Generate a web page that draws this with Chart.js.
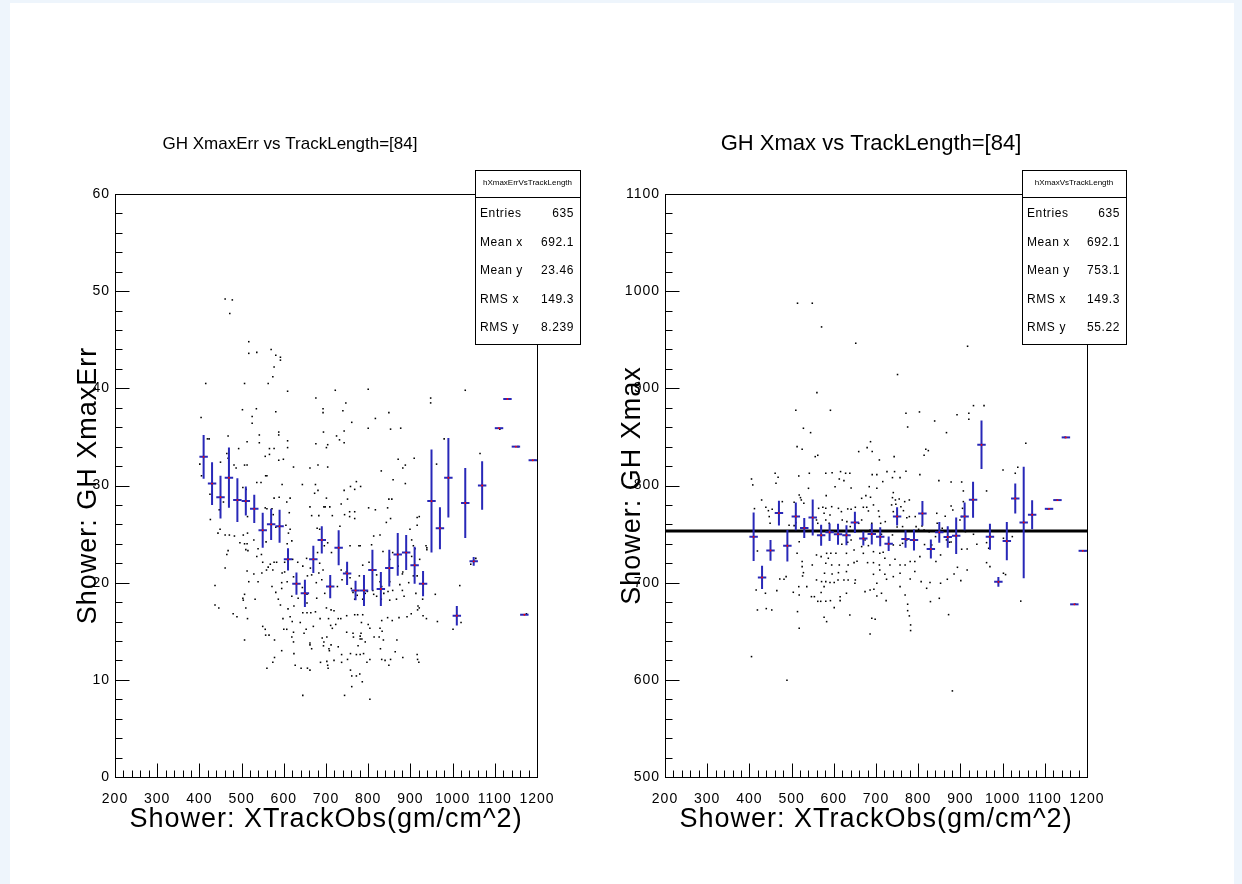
<!DOCTYPE html>
<html>
<head>
<meta charset="utf-8">
<title>GH Xmax vs TrackLength</title>
<script src="https://cdn.jsdelivr.net/npm/chart.js@4.4.1/dist/chart.umd.min.js"></script>
<style>
    html, body { margin: 0; padding: 0; width: 1242px; height: 884px; overflow: hidden; background: #eef5fc; }
    #page { position: absolute; left: 10px; top: 3px; width: 1224px; height: 881px; background: #ffffff; }
    .pane { position: absolute; top: 0; height: 884px; }
    #paneLeft { left: 10px; width: 590px; }
    #paneRight { left: 590px; width: 560px; }
</style>
</head>
<body>
<div id="page"></div>
<div class="pane" id="paneLeft"><canvas id="chartLeft"></canvas></div>
<div class="pane" id="paneRight"><canvas id="chartRight"></canvas></div>
<script>
// ---- data ----
const xTicks = [200, 300, 400, 500, 600, 700, 800, 900, 1000, 1100, 1200];
const leftYTicks = [0, 10, 20, 30, 40, 50, 60];
const rightYTicks = [500, 600, 700, 800, 900, 1000, 1100];
const binHalfWidth = 10;

const statLabels = ['Entries', 'Mean x', 'Mean y', 'RMS x', 'RMS y'];
const leftStatValues = ['635', '692.1', '23.46', '149.3', '8.239'];
const rightStatValues = ['635', '692.1', '753.1', '149.3', '55.22'];
const rightMeanY = 753.1;

// profile (bin centres, mean, error)
const profX = [410, 430, 450, 470, 490, 510, 530, 550, 570, 590, 610, 630, 650, 670, 690, 710, 730, 750, 770, 790,
    810, 830, 850, 870, 890, 910, 930, 950, 970, 990, 1010, 1030, 1050, 1070, 1110, 1130, 1150, 1170, 1190];
const leftProfY = [32.95, 30.2, 28.8, 30.8, 28.5, 28.4, 27.6, 25.4, 26.0, 25.8, 22.4, 19.9, 18.9, 22.4, 24.4, 19.6, 23.6, 20.95, 19.2, 19.2,
    21.3, 19.35, 21.5, 22.9, 23.1, 21.8, 19.9, 28.4, 25.6, 30.8, 16.6, 28.2, 22.2, 30.0, 35.9, 38.9, 34.0, 16.7, 32.6];
const leftProfErr = [2.25, 2.2, 2.2, 3.1, 2.25, 1.5, 1.45, 1.8, 1.6, 1.7, 1.15, 1.15, 1.4, 1.4, 1.4, 1.2, 1.8, 1.2, 1.0, 1.6,
    2.1, 1.75, 1.9, 2.2, 1.8, 1.9, 1.3, 5.3, 2.15, 4.1, 1.0, 3.6, 0.45, 2.5, 0, 0, 0, 0, 0];
const rightProfY = [747.2, 705.4, 733.2, 771.6, 738.0, 768.2, 756.2, 767.0, 748.8, 751.9, 749.9, 748.8, 762.0, 745.4, 750.0, 747.2, 740.0, 768.2, 744.9, 743.8,
    771.3, 734.6, 751.8, 747.0, 748.3, 768.2, 785.4, 841.9, 747.2, 700.9, 742.8, 786.6, 762.0, 769.9, 776.0, 785.0, 849.5, 677.7, 732.8];
const rightProfErr = [24.9, 12.0, 10.6, 12.7, 16.3, 14.2, 10.3, 18.5, 10.8, 9.0, 10.8, 10.3, 11.0, 7.2, 10.6, 9.8, 7.4, 9.4, 9.0, 10.8,
    12.7, 9.8, 10.6, 11.0, 18.7, 14.2, 18.5, 25.0, 13.4, 5.0, 19.7, 15.4, 57.4, 14.9, 0, 0, 0, 0, 0];

// individual entries [XTrackObs, GH XmaxErr]
const leftEntries = [
    [461,49.2],[478,49.1],[472,47.7],[517,44.8],[517,43.6],[536,43.7],[570,44.0],[581,43.4],[592,43.2],[592,42.9],[577,42.2],[574,41.2],[415,40.5],[507,40.5],[563,40.5],
    [609,39.7],[404,37.0],[502,37.8],[535,37.9],[581,37.6],[525,37.1],[525,36.4],[468,35.1],[542,35.2],[588,35.5],[588,35.2],[513,34.5],[542,34.4],[609,34.6],[609,33.9],
    [419,34.8],[423,34.8],[493,33.8],[566,33.8],[577,33.8],[556,33.0],[566,33.2],[599,32.7],[588,32.6],[465,33.3],[468,32.8],[450,32.4],[482,32.1],[487,31.8],[507,32.1],
    [513,32.1],[623,31.9],[401,32.2],[405,31.0],[557,31.0],[560,31.0],[536,30.3],[546,30.3],[596,30.1],[425,29.1],[457,28.3],[503,29.8],[511,29.6],[577,28.7],[589,28.8],
    [607,28.3],[615,28.7],[613,27.2],[426,26.5],[447,27.5],[556,27.7],[560,27.6],[572,27.6],[575,27.0],[514,26.8],[449,25.5],[444,25.1],[461,24.9],[471,24.9],[483,24.8],
    [504,24.9],[514,25.1],[496,24.1],[507,24.0],[513,24.0],[468,23.3],[465,22.9],[510,23.4],[515,23.3],[529,24.4],[539,23.5],[558,24.2],[581,25.7],[605,25.9],[615,25.5],
    [611,25.1],[619,24.3],[608,24.0],[547,22.9],[536,22.7],[550,22.1],[568,21.9],[563,21.6],[577,22.1],[583,22.1],[461,21.5],[513,21.2],[529,20.9],[548,21.0],[559,21.3],
    [574,21.3],[596,21.0],[602,21.1],[602,22.1],[621,22.4],[633,22.1],[517,20.1],[539,20.1],[572,19.6],[595,20.0],[608,20.1],[623,20.6],[437,19.7],[446,17.4],[437,17.7],
    [503,18.4],[504,18.2],[507,18.8],[532,18.3],[510,17.4],[514,16.3],[480,16.8],[489,16.5],[581,19.0],[587,18.3],[595,19.4],[592,17.7],[598,16.3],[610,17.3],[615,16.5],
    [619,18.6],[624,17.6],[634,18.4],[550,15.5],[556,15.2],[600,15.2],[607,15.2],[620,16.0],[623,14.9],
    [722,39.8],[800,39.9],[948,39.0],[948,38.5],[1030,39.8],[676,39.0],[747,38.5],[693,37.9],[693,37.5],[740,37.7],[849,37.5],[817,36.9],[761,36.5],[694,35.5],[743,35.6],
    [725,35.1],[732,34.7],[743,34.4],[676,34.3],[704,34.2],[701,33.9],[800,35.9],[853,35.8],[877,35.9],[980,34.8],[962,32.2],[1065,33.3],[871,32.7],[909,32.8],[888,32.1],
    [882,31.8],[831,31.5],[662,31.8],[681,32.1],[704,31.9],[644,30.1],[675,30.1],[758,29.9],[772,30.4],[782,29.9],[768,29.6],[888,30.2],[859,30.6],[673,29.2],[681,29.5],
    [743,29.5],[751,28.6],[701,28.7],[736,28.1],[849,28.6],[856,28.6],[662,27.8],[695,27.8],[698,27.8],[709,27.8],[801,27.7],[817,27.5],[846,27.7],[666,26.9],[683,26.9],
    [715,26.9],[744,27.0],[756,27.3],[756,26.8],[768,27.3],[768,26.6],[853,26.6],[843,26.2],[916,26.7],[921,26.8],[916,25.9],[899,25.5],[813,24.8],[828,24.9],[733,25.8],
    [679,25.6],[685,25.5],[704,24.1],[696,23.8],[680,23.1],[713,23.1],[654,22.5],[757,23.8],[778,23.8],[781,23.8],[808,23.9],[835,23.2],[858,23.1],[903,24.4],[907,23.8],
    [911,23.5],[937,23.8],[939,23.6],[939,23.4],[903,22.7],[922,22.4],[645,21.7],[663,21.5],[685,22.0],[693,21.3],[656,20.7],[666,20.8],[683,21.0],[690,20.3],[677,20.0],
    [736,21.3],[748,21.1],[738,20.3],[757,20.5],[779,20.7],[787,21.8],[802,22.1],[851,22.4],[871,21.7],[881,20.9],[882,21.1],[820,20.8],[828,20.1],[875,19.8],[896,20.0],
    [851,20.1],[832,19.6],[837,18.9],[847,19.1],[811,19.2],[798,19.1],[790,18.7],[813,18.8],[913,18.9],[858,19.2],[881,19.2],[885,18.6],[907,20.7],[916,20.7],[959,18.8],
    [1017,19.7],[644,19.5],[655,18.8],[678,18.4],[697,18.9],[727,19.6],[760,19.4],[764,19.0],[768,18.3],[787,18.3],[774,18.7],[793,18.9],[820,18.6],[831,18.3],[851,18.2],
    [867,18.3],[655,17.9],[645,16.9],[655,16.9],[664,16.9],[675,17.0],[701,17.4],[712,17.2],[719,17.1],[729,16.3],[735,16.3],[749,16.6],[768,16.7],[775,16.7],[787,16.7],
    [784,15.9],[800,15.7],[832,16.1],[846,16.4],[857,16.1],[873,16.4],[892,16.5],[902,16.8],[917,17.2],[930,16.6],[938,16.3],[964,16.0],[1001,15.2],[1020,15.9],[670,15.5],
    [686,16.3],[706,16.3],[711,15.6],[723,15.7],[715,15.3],[749,14.9],[764,14.8],[783,14.8],[804,15.3],[828,15.3],[833,15.0],[653,15.2],[648,14.8],[639,15.9],[929,18.3],
    [918,17.6],[921,17.4],[1112,35.8],[1127,38.9],[1155,34.0],[1175,16.8],[1195,32.6],[1043,21.9],[1055,22.5],
    [507,14.1],[557,14.6],[565,14.6],[578,14.1],[619,14.4],[623,13.9],[662,13.8],[662,13.6],[666,13.2],[691,14.3],[695,13.9],[694,13.5],[702,14.4],[707,13.2],[708,13.0],
    [712,13.6],[729,13.4],[595,13.0],[624,12.7],[578,12.3],[574,11.8],[560,11.2],[627,11.5],[641,11.2],[656,11.2],[662,11.0],[687,11.8],[702,11.9],[704,11.5],[705,11.2],
    [719,12.0],[737,12.6],[737,11.8],[751,12.1],[758,12.7],[758,11.0],[761,10.4],[772,10.4],[780,10.6],[786,9.8],[761,9.3],[772,12.6],[781,12.6],[789,12.7],[797,11.8],
    [804,12.1],[765,14.4],[781,14.5],[781,14.2],[785,14.2],[793,13.9],[776,13.5],[814,14.4],[826,14.4],[836,14.1],[829,13.2],[832,12.1],[840,12.0],[853,12.1],[864,12.9],
    [868,14.1],[882,12.3],[849,11.5],[916,12.6],[917,12.1],[920,11.8],[645,8.4],[744,8.4],[804,8.0]
];

// individual entries [XTrackObs, GH Xmax]
const rightEntries = [
    [514,987.6],[549,987.6],[571,963.2],[652,946.4],[917,943.3],[751,914.2],[405,623.9],[489,599.5],[881,588.6],
    [560,895.6],[510,877.4],[592,877.4],[528,858.9],[545,854.4],[513,840.0],[525,837.3],[556,829.7],[562,831.1],[659,834.9],[405,806.7],[408,800.6],[461,812.6],[468,808.4],
    [463,802.3],[542,812.6],[581,812.6],[596,813.2],[616,814.3],[628,812.6],[638,812.6],[613,806.7],[624,805.0],[641,797.5],[603,798.8],[582,789.6],[540,797.1],[517,809.8],
    [429,785.1],[412,776.2],[439,777.6],[445,774.1],[454,775.5],[447,768.0],[449,761.1],[478,783.4],[518,790.3],[521,787.5],[523,785.1],[529,781.7],[506,782.7],[494,759.1],
    [506,758.7],[510,761.8],[564,776.5],[574,777.6],[581,776.5],[595,778.2],[577,771.4],[591,769.7],[559,764.5],[581,764.5],[562,761.1],[570,757.3],[589,761.1],[611,776.5],
    [618,773.1],[633,775.9],[641,775.5],[620,764.5],[631,762.8],[639,757.7],[659,761.1],[651,777.6],[619,739.5],[633,741.6],[641,744.0],[648,733.7],[605,730.2],[593,730.2],
    [559,728.5],[570,726.8],[583,730.2],[581,719.9],[587,725.1],[595,718.2],[613,718.2],[634,718.2],[419,732.6],[416,692.5],[419,671.9],[440,673.3],[453,671.9],[438,689.1],
    [465,691.8],[472,703.8],[487,706.2],[482,703.5],[504,690.1],[517,695.9],[518,687.4],[526,706.9],[525,716.5],[528,710.3],[536,695.9],[513,730.2],[518,742.2],[525,721.7],
    [549,718.2],[559,702.8],[571,701.1],[577,695.9],[581,701.1],[591,700.1],[601,700.1],[610,702.8],[624,702.8],[634,702.8],[651,702.8],[578,709.7],[596,709.0],[611,710.3],
    [630,711.4],[630,730.2],[648,720.6],[655,722.0],[570,689.8],[562,680.8],[569,680.8],[581,680.8],[592,681.5],[615,685.6],[615,681.5],[630,689.1],[638,666.8],[650,699.4],
    [601,674.3],[577,664.4],[583,659.9],[514,670.2],[518,653.1],[554,685.6],[547,685.6],
    [931,882.2],[956,882.2],[771,874.3],[803,875.7],[892,872.9],[920,874.3],[920,868.1],[839,866.4],[775,860.2],[867,854.4],[687,845.1],[679,839.0],[691,834.9],[818,837.3],
    [824,835.9],[814,831.1],[743,829.7],[708,826.3],[1055,843.4],[1001,816.0],[1036,818.7],[1030,812.6],[691,811.2],[702,811.2],[739,808.1],[757,808.1],[804,811.2],[726,814.3],
    [744,814.3],[771,814.6],[849,805.0],[878,803.6],[903,803.6],[907,794.4],[962,794.4],[684,798.8],[702,797.1],[716,804.0],[741,792.7],[666,786.8],[676,789.6],[687,787.9],
    [694,780.0],[678,777.6],[670,777.6],[682,773.8],[706,773.8],[708,768.0],[711,761.1],[722,762.8],[739,787.5],[746,785.1],[747,780.7],[755,786.2],[768,783.4],[779,785.1],
    [759,778.2],[765,774.1],[741,773.1],[737,780.0],[773,766.9],[779,768.0],[793,768.0],[795,757.7],[809,758.4],[801,754.9],[814,754.3],[763,757.7],[750,757.3],[739,749.1],
    [713,749.8],[686,754.3],[690,761.1],[666,764.5],[844,771.4],[864,768.3],[845,761.1],[878,778.9],[882,774.8],[905,776.5],[907,783.4],[903,768.0],[857,756.0],[846,752.5],
    [826,752.5],[841,747.4],[815,739.2],[832,738.8],[867,744.0],[874,741.6],[878,741.9],[903,734.4],[916,734.7],[912,752.5],[931,749.8],[939,739.5],[962,741.2],[967,735.4],
    [1002,745.7],[1023,747.4],[899,764.5],[674,744.0],[682,738.1],[666,737.1],[694,731.9],[709,730.2],[717,731.3],[741,738.8],[757,738.5],[763,740.5],[773,744.0],[670,730.2],
    [680,720.6],[694,720.6],[708,718.2],[721,725.1],[733,718.2],[745,724.1],[757,718.2],[769,718.2],[781,721.7],[792,721.7],[804,726.8],[842,721.7],[853,728.5],[694,708.6],
    [709,713.1],[721,708.6],[702,699.4],[725,703.5],[741,706.2],[713,689.1],[674,690.8],[686,692.5],[695,693.2],[702,686.3],[724,681.5],[757,709.7],[781,703.8],[757,695.9],
    [769,687.4],[775,677.8],[775,671.2],[779,665.8],[782,656.5],[782,650.7],[829,680.5],[850,683.9],[853,699.4],[869,703.5],[885,709.0],[893,715.8],[916,713.1],[901,702.1],
    [962,720.6],[970,716.5],[828,700.1],[1002,709.7],[1007,708.3],[807,701.1],[792,711.4],[820,694.2],[690,663.4],[698,662.3],[686,647.2],[872,667.1],
    [1107,776.0],[1129,785.0],[1148,849.5],[1172,677.7],[1195,732.8],[1043,681.0]
];

const FONT = "'Liberation Sans', Arial, Helvetica, sans-serif";

// ROOT-like frame, inside ticks, profile error bars, title and stats box
function makeRootPlugin(panel) {
    return {
        id: 'rootPad',
        beforeDraw(chart) {
            chart.ctx.letterSpacing = '1px';
        },
        beforeDatasetDraw(chart, args) {
            if (args.index !== 0) return;
            const { ctx, chartArea: a, scales: { x, y } } = chart;
            ctx.save();
            ctx.beginPath();
            ctx.rect(a.left, a.top, a.right - a.left, a.bottom - a.top);
            ctx.clip();
            ctx.strokeStyle = '#2828b8';
            ctx.lineWidth = 2;
            profX.forEach((v, i) => {
                const px = x.getPixelForValue(v);
                const py = y.getPixelForValue(panel.profY[i]);
                ctx.beginPath();
                ctx.moveTo(x.getPixelForValue(v - binHalfWidth), py);
                ctx.lineTo(x.getPixelForValue(v + binHalfWidth), py);
                if (panel.profErr[i] > 0) {
                    ctx.moveTo(px, y.getPixelForValue(panel.profY[i] - panel.profErr[i]));
                    ctx.lineTo(px, y.getPixelForValue(panel.profY[i] + panel.profErr[i]));
                }
                ctx.stroke();
            });
            ctx.restore();
        },
        afterDraw(chart) {
            const { ctx, chartArea: a, scales: { x, y } } = chart;
            ctx.save();
            ctx.letterSpacing = '0px';
            ctx.strokeStyle = '#000';
            ctx.lineWidth = 1;

            // frame
            const L = Math.round(a.left) + 0.5, R = Math.round(a.right) + 0.5;
            const T = Math.round(a.top) + 0.5, B = Math.round(a.bottom) + 0.5;
            ctx.strokeRect(L, T, R - L, B - T);

            // ticks, drawn inside the frame
            ctx.beginPath();
            const xMinorStep = (xTicks[1] - xTicks[0]) / 5;
            for (let v = xTicks[0]; v <= xTicks[xTicks.length - 1] + 1e-6; v += xMinorStep) {
                const px = Math.round(x.getPixelForValue(v)) + 0.5;
                const major = xTicks.some(t => Math.abs(t - v) < 1e-6);
                ctx.moveTo(px, B);
                ctx.lineTo(px, B - (major ? 14 : 7));
            }
            const yt = panel.yTicks;
            const yMinorStep = (yt[1] - yt[0]) / 5;
            for (let v = yt[0]; v <= yt[yt.length - 1] + 1e-6; v += yMinorStep) {
                const py = Math.round(y.getPixelForValue(v)) + 0.5;
                const major = yt.some(t => Math.abs(t - v) < 1e-6);
                ctx.moveTo(L, py);
                ctx.lineTo(L + (major ? 14 : 7), py);
            }
            ctx.stroke();

            // pad title
            ctx.fillStyle = '#000';
            ctx.font = `${panel.titleSize}px ${FONT}`;
            ctx.textAlign = 'center';
            ctx.textBaseline = 'middle';
            ctx.fillText(panel.title, panel.titleX, 144);

            // statistics box
            const b = panel.box;
            ctx.fillStyle = '#fff';
            ctx.fillRect(b.left, b.top, b.right - b.left, b.bottom - b.top);
            ctx.strokeRect(b.left + 0.5, b.top + 0.5, b.right - b.left, b.bottom - b.top);
            ctx.beginPath();
            ctx.moveTo(b.left, b.sep + 0.5);
            ctx.lineTo(b.right, b.sep + 0.5);
            ctx.stroke();
            ctx.fillStyle = '#000';
            ctx.font = `8px ${FONT}`;
            ctx.fillText(panel.histName, (b.left + b.right) / 2, b.top + 13);
            ctx.font = `12px ${FONT}`;
            ctx.letterSpacing = '0.6px';
            statLabels.forEach((lab, i) => {
                const ry = b.rows[i];
                ctx.textAlign = 'left';
                ctx.fillText(lab, b.left + 5, ry);
                ctx.textAlign = 'right';
                ctx.fillText(panel.stats[i], b.right - 6, ry);
            });
            ctx.restore();
        }
    };
}

function makePanel(canvasId, panel) {
    const datasets = [
        {
            label: 'profile',
            data: profX.map((v, i) => ({ x: v, y: panel.profY[i] })),
            pointRadius: 0.9,
            pointBorderWidth: 0,
            pointBackgroundColor: '#ff0000',
            order: 0
        },
        {
            label: 'entries',
            data: panel.entries.map(e => ({ x: e[0], y: e[1] })),
            pointStyle: 'rect',
            pointRadius: 1.1,
            pointBorderWidth: 0,
            pointBackgroundColor: '#000000',
            order: 2
        }
    ];
    if (panel.meanY !== undefined) {
        datasets.push({
            label: 'mean',
            data: [{ x: xTicks[0], y: panel.meanY }, { x: xTicks[xTicks.length - 1], y: panel.meanY }],
            showLine: true,
            borderColor: '#000000',
            borderWidth: 3,
            pointRadius: 0,
            order: 1
        });
    }

    const yt = panel.yTicks;
    return new Chart(document.getElementById(canvasId), {
        type: 'scatter',
        data: { datasets },
        options: {
            responsive: true,
            maintainAspectRatio: false,
            devicePixelRatio: 1,
            animation: false,
            events: [],
            layout: { padding: { top: 194, right: panel.padRight, bottom: 0, left: 0 } },
            plugins: {
                legend: { display: false },
                tooltip: { enabled: false },
                title: { display: false }
            },
            scales: {
                x: {
                    type: 'linear',
                    min: xTicks[0],
                    max: xTicks[xTicks.length - 1],
                    afterBuildTicks: s => { s.ticks = xTicks.map(v => ({ value: v })); },
                    afterFit: s => { s.height = 884 - 777; },
                    grid: { display: false, drawTicks: false },
                    border: { display: false },
                    ticks: {
                        autoSkip: false,
                        maxRotation: 0,
                        padding: 14,
                        color: '#000',
                        font: { family: FONT, size: 14 },
                        callback: v => String(v)
                    },
                    title: {
                        display: true,
                        text: 'Shower: XTrackObs(gm/cm^2)',
                        color: '#000',
                        font: { family: FONT, size: 27 },
                        padding: { top: 0, bottom: 48 }
                    }
                },
                y: {
                    type: 'linear',
                    min: yt[0],
                    max: yt[yt.length - 1],
                    afterBuildTicks: s => { s.ticks = yt.map(v => ({ value: v })); },
                    afterFit: s => { s.width = panel.plotLeft; },
                    grid: { display: false, drawTicks: false },
                    border: { display: false },
                    ticks: {
                        padding: 5,
                        color: '#000',
                        font: { family: FONT, size: 14 },
                        callback: v => String(v)
                    },
                    title: {
                        display: true,
                        text: panel.yTitle,
                        color: '#000',
                        font: { family: FONT, size: 27 },
                        padding: { top: panel.yTitlePad, bottom: 0 }
                    }
                }
            }
        },
        plugins: [makeRootPlugin(panel)]
    });
}

makePanel('chartLeft', {
    title: 'GH XmaxErr vs TrackLength=[84]',
    titleSize: 17,
    titleX: 280,
    yTitle: 'Shower: GH XmaxErr',
    yTitlePad: 62,
    yTicks: leftYTicks,
    plotLeft: 105,
    padRight: 63,
    profY: leftProfY,
    profErr: leftProfErr,
    entries: leftEntries,
    histName: 'hXmaxErrVsTrackLength',
    stats: leftStatValues,
    box: { left: 465, right: 570, top: 170, bottom: 344, sep: 197, rows: [214, 243, 271, 300, 328] }
});

makePanel('chartRight', {
    title: 'GH Xmax vs TrackLength=[84]',
    titleSize: 22,
    titleX: 281,
    yTitle: 'Shower: GH Xmax',
    yTitlePad: 26,
    yTicks: rightYTicks,
    plotLeft: 75,
    padRight: 63,
    profY: rightProfY,
    profErr: rightProfErr,
    entries: rightEntries,
    meanY: rightMeanY,
    histName: 'hXmaxVsTrackLength',
    stats: rightStatValues,
    box: { left: 432, right: 536, top: 170, bottom: 344, sep: 197, rows: [214, 243, 271, 300, 328] }
});
</script>
</body>
</html>
